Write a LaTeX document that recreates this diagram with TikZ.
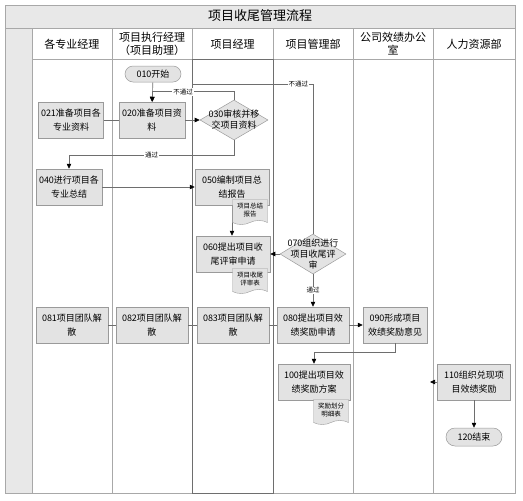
\documentclass[tikz,border=0pt]{standalone}
\usepackage{fontspec}
\setmainfont{Noto Sans CJK SC}
\usetikzlibrary{arrows.meta,positioning,shapes.geometric,shapes.misc,shapes.symbols}
\definecolor{stepfill}{HTML}{E3E3E3}
\definecolor{stepline}{HTML}{9A9A9A}
\definecolor{lanefill}{HTML}{E8E8E8}
\definecolor{laneline}{HTML}{A8A8A8}
\definecolor{flowline}{HTML}{6E6E6E}

\begin{document}
\begin{tikzpicture}[
  x=1pt, y=-1pt,
  lane/.style={draw=laneline, line width=0.6pt},
  box/.style={draw=stepline, fill=stepfill, line width=0.5pt, minimum width=72pt, minimum height=36pt, align=center, inner sep=2pt, font=\fontsize{9}{14}\selectfont},
  terminal/.style={box, rounded rectangle, minimum width=60pt, minimum height=16pt},
  decision/.style={draw=stepline, fill=stepfill, diamond, line width=0.5pt, minimum width=68pt, minimum height=40pt, inner sep=0pt},
  dtext/.style={align=center, font=\fontsize{9}{11}\selectfont},
  doc/.style={draw=stepline, fill=stepfill, tape, tape bend top=none, tape bend height=4pt, minimum width=35pt, minimum height=25pt, align=center, inner sep=1pt, font=\fontsize{6.5}{8.5}\selectfont},
  head/.style={align=center, font=\fontsize{11}{13}\selectfont},
  line/.style={draw=flowline, line width=0.6pt},
  arrow/.style={line, -{Triangle[length=5pt,width=4.5pt,color=black]}},
  cond/.style={fill=white, inner sep=1pt, font=\fontsize{6.5}{8}\selectfont}
]
\useasboundingbox (0,0) rectangle (523,501);

% swimlane frame
\fill[lanefill] (5,5) rectangle (515,28);
\fill[lanefill] (5,28) rectangle (32,493);
\draw[lane] (5,5) rectangle (515,493);
\draw[lane] (5,28) -- (515,28);
\draw[lane] (32,59) -- (515,59);
\foreach \x in {32,112,192,273,353,433}
  \draw[lane] (\x,28) -- (\x,493);
\draw[draw=flowline, line width=0.8pt] (192,59) rectangle (273,493);

\node[font=\fontsize{13}{15}\selectfont] (title) at (260,16) {项目收尾管理流程};
\node[head] (hspec) at (72,44) {各专业经理};
\node[head] (hexec) at (152,44) {项目执行经理\\（项目助理）};
\node[head] (hpm) at (232.5,44) {项目经理};
\node[head] (hdept) at (313,44) {项目管理部};
\node[head] (hperf) at (393,44) {公司效绩办公\\室};
\node[head] (hhr) at (474,44) {人力资源部};

% steps
\node[terminal] (s010) at (153,74) {010开始};
\node[box, minimum width=65pt] (b021) at (71,120) {021准备项目各\\专业资料};
\node[box, minimum width=66pt] (b020) at (152,120) {020准备项目资\\料};
\node[decision, label={[dtext]center:030审核并移\\交项目资料}] (c030) at (234,120) {};
\node[box, minimum width=66pt] (b040) at (69,187) {040进行项目各\\专业总结};
\node[box, minimum width=74pt] (b050) at (232,187) {050编制项目总\\结报告};
\node[box, minimum width=74pt] (b060) at (233,254) {060提出项目收\\尾评审申请};
\node[decision, minimum width=66pt, label={[dtext]center:070组织进行\\项目收尾评\\审}] (c070) at (313,254) {};
\node[box] (b081) at (72,325) {081项目团队解\\散};
\node[box] (b082) at (152,325) {082项目团队解\\散};
\node[box] (b083) at (233,325) {083项目团队解\\散};
\node[box] (b080) at (313,325) {080提出项目效\\绩奖励申请};
\node[box, minimum width=64pt] (b090) at (395,325) {090形成项目\\效绩奖励意见};
\node[box] (b100) at (314,382) {100提出项目效\\绩奖励方案};
\node[box, minimum width=73pt] (b110) at (474,382) {110组织兑现项\\目效绩奖励};
\node[terminal, minimum height=18pt] (s120) at (474,437) {120结束};

\coordinate (back) at (192,84);
\coordinate (hrin) at (430,382);

% connectors
\draw[line] (b021) -- (b020);
\draw[arrow] (s010) -- (b020);
\draw[arrow] (b020) -- (c030);
\draw[arrow] (c030.north) -- ++(0,-8) -| node[cond, pos=0.31] {不通过} (b020.north);
\draw[arrow] (c030.south) -- ++(0,15) -| node[cond, pos=0.25] {通过} (b040.north);
\draw[arrow] (b040) -- (b050);
\draw[arrow] (b050.south) -- (b050.south |- b060.north);
\draw[arrow] (c070) -- (b060);
\draw[line] (c070.north) |- node[cond, pos=0.56] {不通过} (back);
\draw[arrow] (c070) -- node[cond] {通过} (b080);
\draw[line] (b081) -- (b082);
\draw[line] (b082) -- (b083);
\draw[line] (b083) -- (b080);
\draw[arrow] (b080) -- (b090);
\draw[arrow] (b090.south) -- ++(0,9) -| (b100.north);
\draw[arrow] (b110.west) -- (hrin);
\draw[arrow] (b110) -- (s120);

% documents
\node[doc] (dsum) at (250,210) {项目总结\\报告};
\node[doc] (drev) at (250,279) {项目收尾\\评审表};
\node[doc] (dbonus) at (331,410) {奖励划分\\明细表};

\end{tikzpicture}
\end{document}
